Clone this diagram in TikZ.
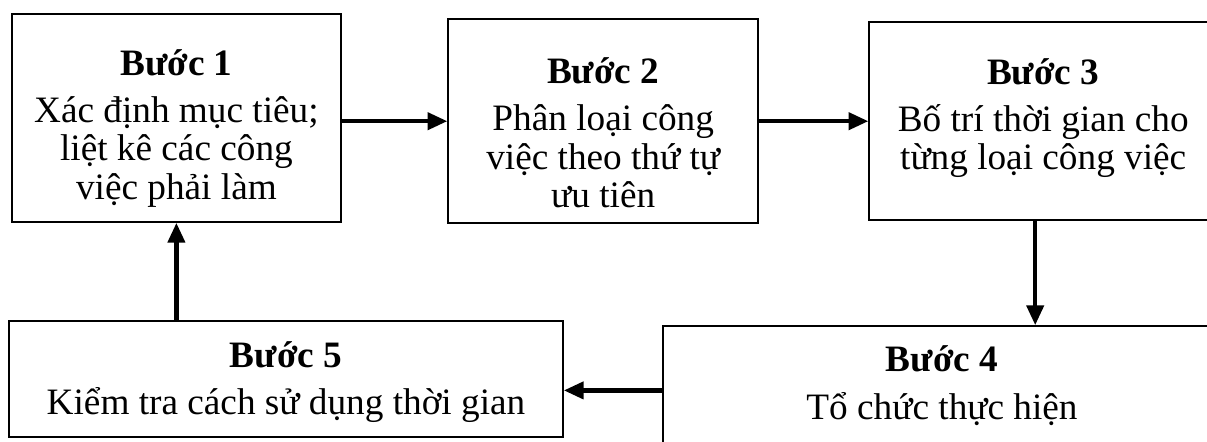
\documentclass[tikz,border=0pt]{standalone}
\usepackage{fontspec}
\setmainfont{Liberation Serif}
\usetikzlibrary{arrows.meta,positioning}

\begin{document}
\begin{tikzpicture}[
    stepbox/.style={draw, line width=1.2pt, align=center, inner sep=0pt, fill=white,
      font=\fontsize{26.5}{27.5}\selectfont},
    arr/.style={-{Triangle[length=14pt,width=12pt]}, line width=3pt}
  ]
    \clip (0,0) rectangle (30.175,-11.025);
    \node[stepbox, minimum width=8.23cm, minimum height=5.2cm] (b1) at (4.41,-2.95)
      {\textbf{Bước 1}\rule{0pt}{33pt}\\[6pt] Xác định mục tiêu;\\ liệt kê các công\\ việc phải làm};
    \node[stepbox, minimum width=7.75cm, minimum height=5.1cm] (b2) at (15.08,-3.03)
      {\textbf{Bước 2}\rule{0pt}{35pt}\\[6pt] Phân loại công\\ việc theo thứ tự\\ ưu tiên};
    \node[stepbox, minimum width=8.7cm, minimum height=4.95cm] (b3) at (26.08,-3.03)
      {\textbf{Bước 3}\\[6pt] Bố trí thời gian cho\\ từng loại công việc\rule[-10pt]{0pt}{0pt}};
    \node[stepbox, minimum width=13.95cm, minimum height=2.98cm] (b4) at (23.55,-9.64)
      {\textbf{Bước 4}\\[6pt] Tổ chức thực hiện};
    \node[stepbox, minimum width=13.85cm, minimum height=2.9cm] (b5) at (7.15,-9.48)
      {\textbf{Bước 5}\rule{0pt}{23pt}\\[6pt] Kiểm tra cách sử dụng thời gian};

    \draw[arr] (b1.east |- b2.west) -- (b2.west);
    \draw[arr] (b2.east) -- (b3.west);
    \draw[arr] ([xshift=-0.2cm]b3.south) -- ([xshift=-0.2cm]b3.south |- b4.north);
    \draw[arr] ([yshift=-0.12cm]b4.west) -- ([yshift=-0.12cm]b4.west -| b5.east);
    \draw[arr] (b5.north -| b1.south) -- (b1.south);
\end{tikzpicture}
\end{document}
